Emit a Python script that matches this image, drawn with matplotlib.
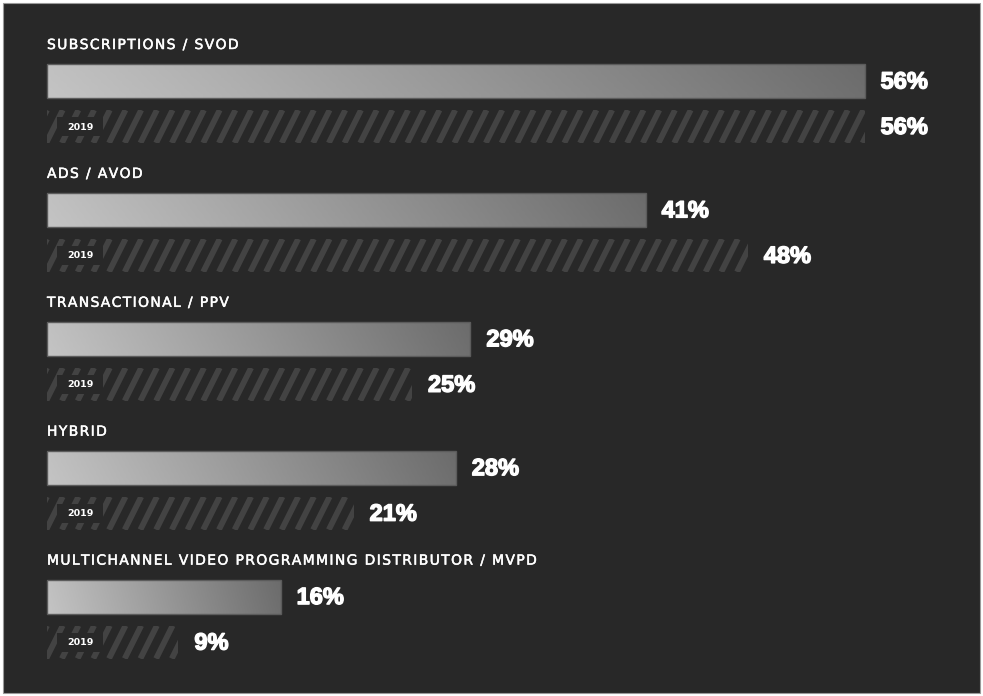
import numpy as np
import matplotlib
matplotlib.use("Agg")
import matplotlib.pyplot as plt
from matplotlib.patches import Rectangle
from matplotlib.colors import LinearSegmentedColormap
import matplotlib.patheffects as pe

categories = ["SUBSCRIPTIONS / SVOD", "ADS / AVOD", "TRANSACTIONAL / PPV", "HYBRID",
              "MULTICHANNEL VIDEO PROGRAMMING DISTRIBUTOR / MVPD"]
values_2020 = [56, 41, 29, 28, 16]
values_2019 = [56, 48, 25, 21, 9]
year_label = "2019"

BG = "#282828"
W, H = 983, 696
fig = plt.figure(figsize=(W / 100, H / 100), dpi=100, facecolor="white")
fig.patches.append(Rectangle((3 / W, 3 / H), 977 / W, 690 / H, transform=fig.transFigure,
                             facecolor=BG, edgecolor="#9a9a9a", linewidth=0.8, zorder=-10))

ax = fig.add_axes([0, 0, 1, 1])
ax.set_facecolor("none")
ax.axis("off")
px_per_pct = 14.6
x0 = 47

cmap = LinearSegmentedColormap.from_list("g", ["#c4c4c4", "#6c6c6c"])
gx, gy_ = np.meshgrid(np.linspace(0, 1, 256), np.linspace(0, 1, 16))
grad = gx - 0.04 * gy_

group_gap = 128.9
label_y0 = 45
bar_y0 = 81
hatch_y0 = 126.5
bar_h = 34
hatch_h = 33
off = 16 / px_per_pct
val_fx = [pe.withStroke(linewidth=1.0, foreground="white")]
lab_fx = [pe.withStroke(linewidth=0.35, foreground="white")]

def spaced(s):
    return "\u200a".join(s)

for i, (cat, v1, v0) in enumerate(zip(categories, values_2020, values_2019)):
    gy = i * group_gap
    ax.text(0, label_y0 + gy, spaced(cat), color="white", fontsize=10,
            family="DejaVu Sans", va="center", ha="left", path_effects=lab_fx)
    # main gradient bar
    yc = bar_y0 + gy
    rect = Rectangle((0, yc - bar_h / 2), v1, bar_h, facecolor="none",
                     edgecolor="#5c5c5c", linewidth=1.0, zorder=3)
    ax.add_patch(rect)
    im = ax.imshow(grad, cmap=cmap, aspect="auto", vmin=-0.04, vmax=1,
                   extent=(0, v1, yc + bar_h / 2, yc - bar_h / 2), zorder=2,
                   interpolation="bilinear")
    im.set_clip_path(rect)
    ax.text(v1 + off, yc + 1, f"{v1}%", color="white", fontsize=17,
            fontweight="bold", family="Liberation Sans", va="center", ha="left",
            path_effects=val_fx)
    # hatched 2019 bar
    hc = hatch_y0 + gy
    hrect = Rectangle((0, hc - hatch_h / 2), v0, hatch_h, facecolor=BG,
                      edgecolor="none", linewidth=0, zorder=2)
    ax.add_patch(hrect)
    slope_px = 2.0
    dx_span = (hatch_h / slope_px) / px_per_pct
    spacing = 15.7 / px_per_pct
    starts = np.arange(-dx_span, v0 + spacing, spacing)
    for s in starts:
        ln, = ax.plot([s, s + dx_span], [hc + hatch_h / 2, hc - hatch_h / 2],
                      color="#434343", linewidth=4.2, solid_capstyle="butt", zorder=2.5)
        ln.set_clip_path(hrect)
    ax.add_patch(Rectangle((10 / px_per_pct, hc - 9.5), 46 / px_per_pct, 19,
                           facecolor=BG, edgecolor="none", zorder=3.5))
    ax.text(33 / px_per_pct, hc + 0.5, year_label, color="white", fontsize=6.8,
            fontweight="bold", family="DejaVu Sans", va="center", ha="center", zorder=4)
    ax.text(v0 + off, hc + 1, f"{v0}%", color="white", fontsize=17,
            fontweight="bold", family="Liberation Sans", va="center", ha="left",
            path_effects=val_fx)

ax.set_xlim(-x0 / px_per_pct, (W - x0) / px_per_pct)
ax.set_ylim(H, 0)
fig.savefig("out.png", dpi=100, facecolor="white")
